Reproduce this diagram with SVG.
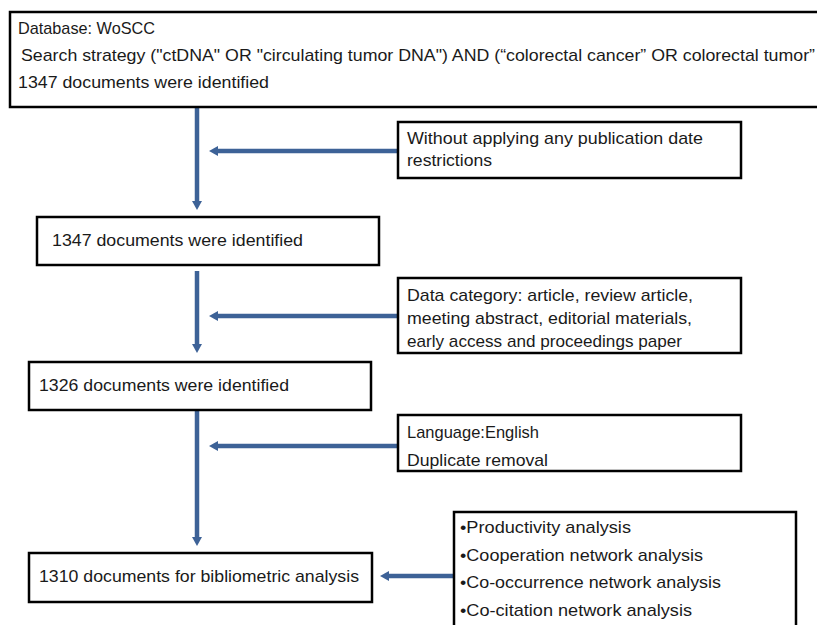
<svg xmlns="http://www.w3.org/2000/svg" width="817" height="625" viewBox="0 0 817 625">
<style>
.box{fill:#fff;stroke:#000;stroke-width:2.5}
.t{font-family:"Liberation Sans",Arial,sans-serif;font-size:17px;fill:#1a1a1a}
.c{stroke:#3d6297;stroke-width:4.5;fill:none}
</style>
<defs>
<marker id="ah" markerUnits="userSpaceOnUse" markerWidth="12" markerHeight="12" viewBox="0 0 12 12" refX="2" refY="6" orient="auto">
<path d="M0,1 L9,6 L0,11 Z" fill="#3d6297"/>
</marker>
</defs>
<rect width="817" height="625" fill="#fff"/>
<g id="connectors">
<line class="c" x1="197" y1="107" x2="197" y2="203" marker-end="url(#ah)"/>
<line class="c" x1="398" y1="151" x2="216" y2="151" marker-end="url(#ah)"/>
<line class="c" x1="197" y1="271" x2="197" y2="346" marker-end="url(#ah)"/>
<line class="c" x1="398" y1="316" x2="216" y2="316" marker-end="url(#ah)"/>
<line class="c" x1="197" y1="410" x2="197" y2="539" marker-end="url(#ah)"/>
<line class="c" x1="398" y1="446" x2="216" y2="446" marker-end="url(#ah)"/>
<line class="c" x1="454" y1="576" x2="387" y2="576" marker-end="url(#ah)"/>
</g>
<g id="n1">
<rect class="box" x="10" y="12" width="830" height="95"/>
<text class="t" x="18" y="34" textLength="137" lengthAdjust="spacingAndGlyphs">Database: WoSCC</text>
<text class="t" x="21" y="61" textLength="794" lengthAdjust="spacingAndGlyphs">Search strategy  ("ctDNA" OR "circulating tumor DNA") AND (“colorectal cancer” OR colorectal tumor”</text>
<text class="t" x="18" y="88" textLength="251" lengthAdjust="spacingAndGlyphs">1347 documents were identified</text>
</g>
<g id="n2">
<rect class="box" x="398" y="122" width="343" height="56"/>
<text class="t" x="407" y="144" textLength="296" lengthAdjust="spacingAndGlyphs">Without applying any publication date</text>
<text class="t" x="407" y="166" textLength="85" lengthAdjust="spacingAndGlyphs">restrictions</text>
</g>
<g id="n3">
<rect class="box" x="37" y="217" width="342" height="48"/>
<text class="t" x="52" y="246" textLength="251" lengthAdjust="spacingAndGlyphs">1347 documents were identified</text>
</g>
<g id="n4">
<rect class="box" x="398" y="278" width="343" height="75"/>
<text class="t" x="407" y="301" textLength="286" lengthAdjust="spacingAndGlyphs">Data category: article, review article,</text>
<text class="t" x="407" y="324" textLength="285" lengthAdjust="spacingAndGlyphs">meeting abstract, editorial materials,</text>
<text class="t" x="407" y="347" textLength="275" lengthAdjust="spacingAndGlyphs">early access and proceedings paper</text>
</g>
<g id="n5">
<rect class="box" x="29" y="362" width="342" height="48"/>
<text class="t" x="39" y="391" textLength="250" lengthAdjust="spacingAndGlyphs">1326 documents were identified</text>
</g>
<g id="n6">
<rect class="box" x="398" y="415" width="343" height="56"/>
<text class="t" x="407" y="438" textLength="132" lengthAdjust="spacingAndGlyphs">Language:English</text>
<text class="t" x="407" y="466" textLength="141" lengthAdjust="spacingAndGlyphs">Duplicate removal</text>
</g>
<g id="n7">
<rect class="box" x="29" y="553" width="343" height="49"/>
<text class="t" x="39" y="582" textLength="320" lengthAdjust="spacingAndGlyphs">1310 documents for bibliometric analysis</text>
</g>
<g id="n8">
<rect class="box" x="454" y="512" width="342" height="130"/>
<text class="t" x="460" y="533" textLength="171" lengthAdjust="spacingAndGlyphs">•Productivity analysis</text>
<text class="t" x="460" y="561" textLength="243" lengthAdjust="spacingAndGlyphs">•Cooperation network analysis</text>
<text class="t" x="460" y="588" textLength="261" lengthAdjust="spacingAndGlyphs">•Co-occurrence network analysis</text>
<text class="t" x="460" y="616" textLength="232" lengthAdjust="spacingAndGlyphs">•Co-citation network analysis</text>
</g>
</svg>
